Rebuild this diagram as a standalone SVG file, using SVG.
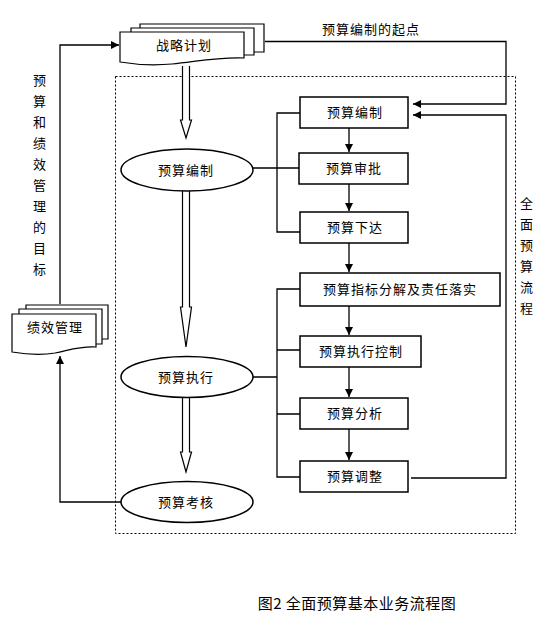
<svg xmlns="http://www.w3.org/2000/svg" width="554" height="618" viewBox="0 0 554 618">
<style>
text{font-family:"Noto Sans CJK SC","Liberation Sans",sans-serif;font-size:13px;fill:#000;letter-spacing:1px}
.c{text-anchor:middle}
.box{fill:#fff;stroke:#000;stroke-width:1.5}
.doc{fill:#fff;stroke:#000;stroke-width:1.2}
.ln{fill:none;stroke:#000;stroke-width:1.3}
.big{fill:#fff;stroke:#000;stroke-width:1.2}
</style>
<defs>
<marker id="ah" markerUnits="userSpaceOnUse" markerWidth="9" markerHeight="9" refX="8" refY="4" orient="auto">
<path d="M0,0 L8,4 L0,8 z" fill="#000"/>
</marker>
</defs>
<rect width="554" height="618" fill="#fff"/>
<rect x="115.5" y="76.5" width="400" height="457" fill="none" stroke="#000" stroke-width="1" stroke-dasharray="2,2"/>

<g id="connectors">
<path class="ln" d="M60,304 V45 H119" marker-end="url(#ah)"/>
<path class="ln" d="M265,41.5 H506 V104 H413" marker-end="url(#ah)"/>
<path class="ln" d="M411,478 H506 V115 H413" marker-end="url(#ah)"/>
<path class="ln" d="M121,502 H60 V356" marker-end="url(#ah)"/>
<path class="ln" d="M349,128 V152" marker-end="url(#ah)"/>
<path class="ln" d="M349,184 V211" marker-end="url(#ah)"/>
<path class="ln" d="M349,243 V272" marker-end="url(#ah)"/>
<path class="ln" d="M349,306 V335" marker-end="url(#ah)"/>
<path class="ln" d="M349,367 V397" marker-end="url(#ah)"/>
<path class="ln" d="M349,429 V460" stroke-width="2.5" marker-end="url(#ah)"/>
<path class="ln" d="M300,113 H277 V232 H300 M277,168 H300 M253,168 H277"/>
<path class="ln" d="M300,289 H277 V477 H300 M277,350 H300 M277,414 H300 M253,377 H277"/>
<path class="big" d="M182.5,66 V120 H180.5 L186,138 L191.5,120 H189.5 V66"/>
<path class="big" d="M182.5,191 V307 H180.5 L186,347 L191.5,307 H189.5 V191"/>
<path class="big" d="M182.5,398 V452 H180.5 L186,472 L191.5,452 H189.5 V398"/>
</g>

<g id="strategy">
<path class="doc" d="M140,24 H264 V52 H140 Z"/>
<path class="doc" d="M131,28 H254 V55 H131 Z"/>
<path class="doc" d="M120,32 H244 V58 C215,57 195,62 172,64 C150,66 132,64 120,62 Z"/>
<text class="c" x="184" y="50">战略计划</text>
</g>

<g id="perf">
<path class="doc" d="M26,305 H108 V339 H26 Z"/>
<path class="doc" d="M19,309 H102 V344 H19 Z"/>
<path class="doc" d="M12,314 H96 V347 C80,346 70,350 55,353 C38,356 24,354 12,352 Z"/>
<text class="c" x="55" y="332">绩效管理</text>
</g>

<g id="goal-label">
<text class="c" x="40" y="85">预</text>
<text class="c" x="40" y="106">算</text>
<text class="c" x="40" y="127">和</text>
<text class="c" x="40" y="148">绩</text>
<text class="c" x="40" y="169">效</text>
<text class="c" x="40" y="190">管</text>
<text class="c" x="40" y="211">理</text>
<text class="c" x="40" y="232">的</text>
<text class="c" x="40" y="253">目</text>
<text class="c" x="40" y="274">标</text>
</g>

<g id="flow-label">
<text class="c" x="527" y="208">全</text>
<text class="c" x="527" y="229">面</text>
<text class="c" x="527" y="250">预</text>
<text class="c" x="527" y="271">算</text>
<text class="c" x="527" y="292">流</text>
<text class="c" x="527" y="313">程</text>
</g>

<g id="start-label">
<text class="c" x="371" y="34">预算编制的起点</text>
</g>

<g id="e-bianzhi">
<ellipse class="box" cx="187" cy="170" rx="66" ry="21"/>
<text class="c" x="186" y="175">预算编制</text>
</g>
<g id="e-zhixing">
<ellipse class="box" cx="187" cy="377" rx="66" ry="20.5"/>
<text class="c" x="186" y="382">预算执行</text>
</g>
<g id="e-kaohe">
<ellipse class="box" cx="187" cy="502" rx="66" ry="20.5"/>
<text class="c" x="186" y="507">预算考核</text>
</g>

<g id="b-bianzhi">
<rect class="box" x="300" y="97" width="108" height="31"/>
<text class="c" x="355" y="117">预算编制</text>
</g>
<g id="b-shenpi">
<rect class="box" x="299" y="153" width="109" height="31"/>
<text class="c" x="354" y="173">预算审批</text>
</g>
<g id="b-xiada">
<rect class="box" x="300" y="212" width="108" height="31"/>
<text class="c" x="355" y="232">预算下达</text>
</g>
<g id="b-fenjie">
<rect class="box" x="300" y="273" width="200" height="33"/>
<text class="c" x="400" y="294">预算指标分解及责任落实</text>
</g>
<g id="b-kongzhi">
<rect class="box" x="300" y="336" width="121" height="31"/>
<text class="c" x="361" y="356">预算执行控制</text>
</g>
<g id="b-fenxi">
<rect class="box" x="300" y="398" width="108" height="31"/>
<text class="c" x="355" y="418">预算分析</text>
</g>
<g id="b-tiaozheng">
<rect class="box" x="300" y="461" width="108" height="31"/>
<text class="c" x="355" y="481">预算调整</text>
</g>

<g id="title">
<text class="c" x="357" y="609" style="font-size:15px;letter-spacing:0.5px">图2 全面预算基本业务流程图</text>
</g>
</svg>
